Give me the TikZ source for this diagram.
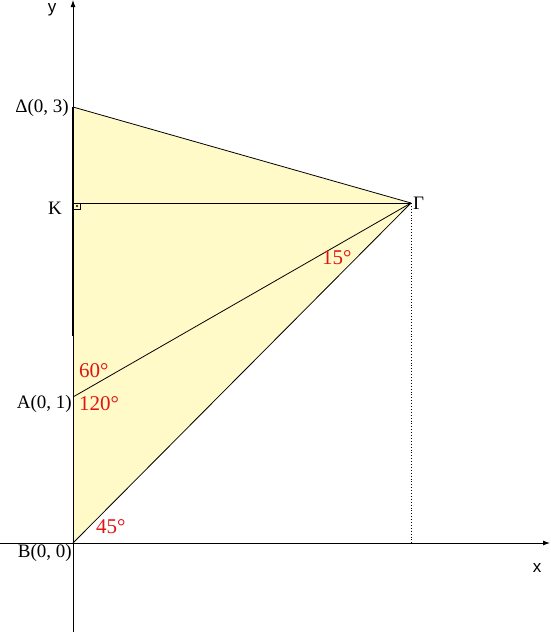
\documentclass[tikz,border=0pt]{standalone}
\usepackage{fontspec}
\setmainfont{Liberation Serif}
\newfontfamily\axfont{Liberation Sans}
\usetikzlibrary{arrows.meta}
\definecolor{fillyel}{RGB}{255,250,200}
\definecolor{anglered}{RGB}{225,20,20}
\begin{document}
\begin{tikzpicture}[x=1pt,y=-1pt,
  thinline/.style={line width=0.8pt,black},
  lbl/.style={font=\fontsize{19}{19}\selectfont,inner sep=0pt},
  anglbl/.style={font=\fontsize{21}{21}\selectfont,text=anglered,inner sep=0pt},
  axlbl/.style={font=\axfont\fontsize{17}{17}\selectfont,inner sep=0pt},
  axis/.style={line width=0.9pt,-{Latex[length=7pt,width=5pt]}}]
\useasboundingbox (0,0) rectangle (550,632);
% points
\coordinate (B) at (73,543);
\coordinate (A) at (73,397);
\coordinate (D) at (73,107);
\coordinate (K) at (73,203);
\coordinate (G) at (411,203);
\coordinate (T) at (73,336);
\coordinate (Gx) at (411,543);
\coordinate (Ybot) at (73,632);
\coordinate (Ytop) at (73,0);
\coordinate (Xl) at (0,543);
\coordinate (Xr) at (550,543);
% fill
\fill[fillyel] (B) -- (G) -- (D) -- cycle;
% axes
\draw[axis] (Ybot) -- (Ytop);
\draw[axis] (Xl) -- (Xr);
% thick segment
\draw[line width=2.6pt] (D) -- (T);
% triangle lines
\draw[thinline] (D) -- (G);
\draw[thinline] (K) -- (G);
\draw[thinline] (A) -- (G);
\draw[thinline] (B) -- (G);
\draw[line width=0.9pt,dotted] (G) -- (Gx);
% right angle marker
\draw[line width=0.6pt] (73,203) rectangle (80.5,209);
\fill (77,206) circle (1.1pt);
% labels
\node[lbl,anchor=east] (lD) at (69,108) {Δ(0, 3)};
\node[lbl,anchor=east] (lK) at (62,208) {K};
\node[lbl,anchor=west] (lG) at (413,203) {Γ};
\node[lbl,anchor=east] (lA) at (72,404) {A(0, 1)};
\node[lbl,anchor=east] (lB) at (72,553) {B(0, 0)};
\node[anglbl,anchor=west] (a60) at (79,371) {60°};
\node[anglbl,anchor=west] (a120) at (79,404) {120°};
\node[anglbl,anchor=west] (a45) at (96,527) {45°};
\node[anglbl,anchor=west] (a15) at (322,258) {15°};
\node[axlbl] (ly) at (52,10) {y};
\node[axlbl] (lx) at (537,568) {x};
\end{tikzpicture}
\end{document}
